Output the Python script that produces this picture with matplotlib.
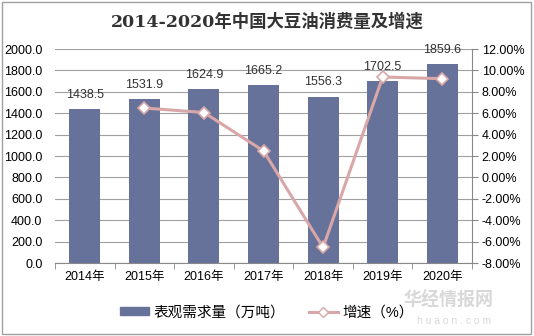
import matplotlib
matplotlib.use("Agg")
import matplotlib.pyplot as plt
from matplotlib.patches import Rectangle
from matplotlib.lines import Line2D
from matplotlib.ticker import FixedLocator, NullFormatter

years = ["2014年", "2015年", "2016年", "2017年", "2018年", "2019年", "2020年"]
demand = [1438.5, 1531.9, 1624.9, 1665.2, 1556.3, 1702.5, 1859.6]
growth_years = ["2015年", "2016年", "2017年", "2018年", "2019年", "2020年"]
growth = [6.49, 6.07, 2.48, -6.54, 9.39, 9.23]

FONT = ['Liberation Sans', 'Noto Sans CJK SC']
plt.rcParams['font.family'] = FONT

bar_color = "#67729A"
line_color = "#D9A7A7"

fig = plt.figure(figsize=(5.34, 3.36), dpi=100)
ax = fig.add_axes([0.103, 0.217, 0.781, 0.637])
x = list(range(len(years)))
ax.bar(x, demand, width=0.52, color=bar_color, zorder=2)
ax.set_ylim(0, 2000)
ax.set_xlim(-0.5, len(years) - 0.5)
ax.set_yticks([i * 200 for i in range(11)])
ax.set_yticklabels([f"{v:.1f}" for v in range(0, 2001, 200)], fontsize=9)
ax.set_xticks(x)
ax.set_xticklabels(years, fontsize=9)
ax.tick_params(axis='x', which='major', length=0, pad=6)
ax.xaxis.set_minor_locator(FixedLocator([i - 0.5 for i in range(len(years) + 1)]))
ax.xaxis.set_minor_formatter(NullFormatter())
ax.tick_params(axis='x', which='minor', length=4, color="#888888")
ax.tick_params(axis='y', length=0, pad=9)
ax.grid(axis='y', color="#A0A0A0", linewidth=0.8, zorder=0)
ax.set_axisbelow(True)
for s in ['top', 'right', 'left']:
    ax.spines[s].set_visible(False)
ax.spines['bottom'].set_color("#888888")
for xi, v in zip(x, demand):
    ax.annotate(f"{v:.1f}", (xi, v), xytext=(0, 6), textcoords='offset points',
                ha='center', va='bottom', fontsize=9, color="#333333")

ax2 = ax.twinx()
gx = [years.index(y) for y in growth_years]
ax2.plot(gx, growth, color=line_color, linewidth=2.2, marker='D', markersize=6,
         markerfacecolor='white', markeredgecolor=line_color, markeredgewidth=1.2, zorder=3)
ax2.set_ylim(-8, 12)
ax2.set_yticks(list(range(-8, 13, 2)))
ax2.set_yticklabels([f"{v:.2f}%" for v in range(-8, 13, 2)], fontsize=9)
ax2.tick_params(axis='y', length=4, color="#888888", pad=3)
for s in ['top', 'left', 'bottom']:
    ax2.spines[s].set_visible(False)
ax2.spines['right'].set_color("#888888")

fig.text(0.5, 0.935, "2014-2020年中国大豆油消费量及增速", ha='center', va='center',
         fontsize=12.5, fontweight='bold', family=['DejaVu Serif', 'Noto Sans CJK SC'], color="#333333")

# watermark
fig.text(0.84, 0.105, "华经情报网", ha='center', va='center', fontsize=13, fontweight='bold',
         color="#D8D8D8", zorder=0)
fig.text(0.85, 0.045, "h u a o n . c o m", ha='center', va='center', fontsize=7.5,
         color="#D8D8D8", zorder=0)

h1 = Rectangle((0, 0), 1, 1, color=bar_color)
h2 = Line2D([], [], color=line_color, linewidth=2.2, marker='D', markersize=5,
            markerfacecolor='white', markeredgecolor=line_color)
fig.legend([h1, h2], ["表观需求量（万吨）", "增速（%）"], loc='center', bbox_to_anchor=(0.5, 0.07),
           ncol=2, frameon=False, fontsize=10.5, handlelength=2.0, handleheight=0.45,
           columnspacing=1.6, handletextpad=0.3)

fig.add_artist(Rectangle((0.003, 0.005), 0.992, 0.99, transform=fig.transFigure,
                         fill=False, edgecolor="#A0A0A0", linewidth=1))

fig.savefig("out.png", dpi=100)
